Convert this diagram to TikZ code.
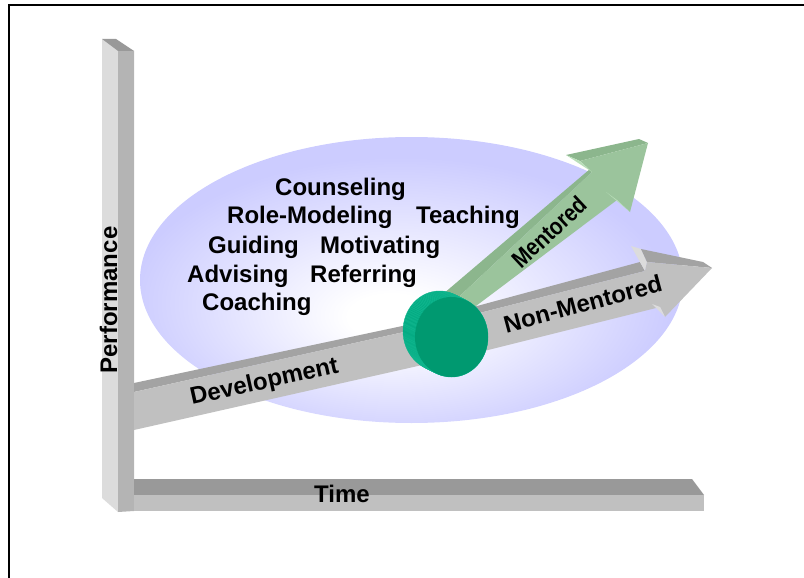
\documentclass[tikz,border=0pt]{standalone}
\usepackage{fontspec}
\setmainfont{Liberation Sans}
\definecolor{lavender}{RGB}{204,204,255}
\definecolor{topdark}{RGB}{153,153,153}
\definecolor{sidelight}{RGB}{220,220,220}
\definecolor{frontmid}{RGB}{180,180,180}
\definecolor{bargray}{RGB}{192,192,192}
\definecolor{stripgray}{RGB}{163,163,163}
\definecolor{mentgreen}{RGB}{155,196,156}
\definecolor{mentdark}{RGB}{140,182,141}
\definecolor{mentlight}{RGB}{184,222,184}
\definecolor{discside}{RGB}{0,168,128}
\definecolor{discline}{RGB}{20,185,145}
\definecolor{discfront}{RGB}{0,153,112}
\pgfdeclareradialshading{glow}{\pgfpoint{-2bp}{-7bp}}{color(0bp)=(white); color(4bp)=(white); color(25bp)=(lavender); color(50bp)=(lavender)}
\begin{document}
\begin{tikzpicture}[x=1pt,y=-1pt]
     \tikzstyle{word}=[font=\bfseries\fontsize{24}{28}\selectfont, inner sep=0pt]
     \tikzstyle{list word}=[word, anchor=base west]
     \useasboundingbox (0,0) rectangle (804,578);
     \draw[line width=1.6pt] (804,5) -- (9,5) -- (9,578);
     % halo behind the words
     \shade[shading=glow] (411.5,280) ellipse (271.5 and 143);
     % performance axis
     \fill[sidelight] (102,39) -- (118,51) -- (118,512) -- (102,498) -- cycle;
     \fill[frontmid] (118,51) -- (134,51) -- (134,511) -- (118,512) -- cycle;
     \fill[topdark] (102,39) -- (116,39) -- (134,51) -- (118,51) -- cycle;
     % time axis
     \fill[topdark] (134,479) -- (692,479) -- (704,495) -- (134,495) -- cycle;
     \fill[bargray] (134,495) -- (704,495) -- (704,511) -- (134,511) -- cycle;
     % development shaft
     \fill[stripgray] (134,383) -- (440,318) -- (440,324) -- (134,392) -- cycle;
     \fill[bargray] (134,392) -- (440,324) -- (440,361) -- (134,430) -- cycle;
     % mentored arrow
     \fill[mentdark] (436,300) -- (590,169) -- (592,172) -- (446,309) -- cycle;
     \fill[mentdark] (566,155) -- (639,139) -- (648,143) -- (580,161) -- cycle;
     \fill[mentgreen] (446,309) -- (592,172) -- (580,161) -- (648,143)
          -- (630,212) -- (617,200) -- (468,312) -- cycle;
     \fill[mentlight] (566,155) -- (580,161) -- (592,172) -- cycle;
     \fill[mentlight] (606,192) -- (617,200) -- (630,212) -- cycle;
     % non-mentored arrow
     \fill[stripgray] (440,316) -- (640,262) -- (645,271) -- (440,323) -- cycle;
     \fill[sidelight] (631,246) -- (641,249) -- (647,262) -- (645,271) -- cycle;
     \fill[stripgray] (641,249) -- (703,262) -- (712,268) -- (647,262) -- cycle;
     \fill[bargray] (440,323) -- (645,271) -- (647,262) -- (712,268)
          -- (665,317) -- (660,307) -- (440,362) -- cycle;
     \fill[sidelight] (652,304) -- (660,307) -- (665,317) -- cycle;
     % the disc where the paths split
     \foreach \k in {0,...,12}
          \filldraw[fill=discside, draw=discline, line width=0.4pt]
               (439.5+\k, 331+0.5*\k) ellipse (36.5 and 40);
     \fill[discfront] (451.5,337) ellipse (36.5 and 40);
     % words
     \node[list word] (counsel) at (275,195) {Counseling};
     \node[list word] (rolemod) at (227,223) {Role-Modeling};
     \node[list word] (teach) at (416,223) {Teaching};
     \node[list word] (guide) at (208,253) {Guiding};
     \node[list word] (motiv) at (320,253) {Motivating};
     \node[list word] (advise) at (187,282) {Advising};
     \node[list word] (refer) at (310,282) {Referring};
     \node[list word] (coach) at (202,310) {Coaching};
     % axis and path labels
     \node[word, anchor=base, rotate=90] (perf) at (117,300) {Performance};
     \node[word, anchor=base] (time) at (342,502) {Time};
     \node[word, anchor=base west, rotate=12.5] (devel) at (192,405) {Development};
     \node[word, anchor=base, rotate=15] (nonment) at (585,312) {Non-Mentored};
     \node[word, anchor=center, rotate=43, xscale=0.85] (ment) at (549,232) {Mentored};
\end{tikzpicture}
\end{document}
